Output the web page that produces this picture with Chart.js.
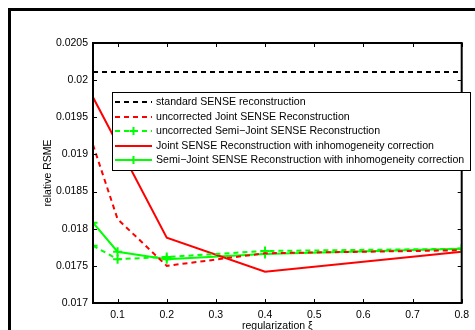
<!DOCTYPE html>
<html>
<head>
<meta charset="utf-8">
<script src="https://cdn.jsdelivr.net/npm/chart.js@4.4.1/dist/chart.umd.min.js"></script>
<style>
  html, body { margin: 0; padding: 0; background: #fff; }
  #wrap { width: 475px; height: 330px; position: relative; }
</style>
</head>
<body>
<div id="wrap"><canvas id="rsmeChart" width="475" height="330"></canvas></div>
<script>
// regularization values and RSME curves
const xValues = [0.05, 0.1, 0.2, 0.4, 0.8];
const standardSense = [0.02011, 0.02011, 0.02011, 0.02011, 0.02011];
const uncorrJoint = [0.01913, 0.01813, 0.0175, 0.01767, 0.01771];
const uncorrSemiJoint = [0.01777, 0.01759, 0.01762, 0.0177, 0.01773];
const jointCorr = [0.01977, 0.01914, 0.01788, 0.01742, 0.01769];
const semiJointCorr = [0.01808, 0.01769, 0.01759, 0.01766, 0.01773];

const xTicks = [0.1, 0.2, 0.3, 0.4, 0.5, 0.6, 0.7, 0.8];
const yTicks = [0.017, 0.0175, 0.018, 0.0185, 0.019, 0.0195, 0.02, 0.0205];

const seriesLabels = [
  'standard SENSE reconstruction',
  'uncorrected Joint SENSE Reconstruction',
  'uncorrected Semi\u2212Joint SENSE Reconstruction',
  'Joint SENSE Reconstruction with inhomogeneity correction',
  'Semi\u2212Joint SENSE Reconstruction with inhomogeneity correction'
];

const FONT = 'Liberation Sans, Arial, Helvetica, sans-serif';

function pts(vals) {
  return vals.map((v, i) => ({ x: xValues[i], y: v }));
}

function line(label, vals, color, dashed, marker) {
  return {
    label: label,
    data: pts(vals),
    borderColor: color,
    backgroundColor: color,
    borderWidth: 2,
    borderDash: dashed ? [5, 4] : [],
    pointStyle: 'cross',
    pointRadius: marker ? 4.5 : 0,
    pointBorderWidth: 2,
    pointBorderColor: color,
    tension: 0,
    fill: false
  };
}

// frame, inward ticks and boxed legend, MATLAB style
const matlabAxes = {
  id: 'matlabAxes',
  beforeDraw(chart) {
    const ctx = chart.ctx;
    ctx.save();
    ctx.fillStyle = '#fff';
    ctx.fillRect(0, 0, chart.width, chart.height);
    // outer figure frame (top-left corner)
    ctx.fillStyle = '#000';
    ctx.fillRect(8, 8, chart.width - 8, 3);
    ctx.fillRect(8, 8, 3, chart.height - 8);
    ctx.restore();
  },
  afterDatasetsDraw(chart) {
    const ctx = chart.ctx;
    const a = chart.chartArea;
    const xs = chart.scales.x, ys = chart.scales.y;
    ctx.save();
    ctx.strokeStyle = '#000';
    ctx.lineWidth = 1;
    ctx.beginPath();
    xTicks.forEach(v => {
      const px = Math.round(xs.getPixelForValue(v)) + 0.5;
      ctx.moveTo(px, a.bottom); ctx.lineTo(px, a.bottom - 4);
      ctx.moveTo(px, a.top); ctx.lineTo(px, a.top + 4);
    });
    yTicks.forEach(v => {
      const py = Math.round(ys.getPixelForValue(v)) + 0.5;
      ctx.moveTo(a.left, py); ctx.lineTo(a.left + 4, py);
      ctx.moveTo(a.right, py); ctx.lineTo(a.right - 4, py);
    });
    ctx.stroke();
    ctx.lineWidth = 2;
    ctx.strokeRect(a.left, a.top, a.right - a.left, a.bottom - a.top);

    // legend box
    const lx = 112, ly = 92, lw = 358, lh = 78;
    ctx.fillStyle = '#fff';
    ctx.fillRect(lx, ly, lw, lh);
    ctx.lineWidth = 1;
    ctx.strokeRect(lx + 0.5, ly + 0.5, lw, lh);
    ctx.font = '10.6px ' + FONT;
    ctx.textBaseline = 'middle';
    chart.data.datasets.forEach((ds, i) => {
      const y = Math.round(ly + 10 + i * 14.6);
      ctx.strokeStyle = ds.borderColor;
      ctx.lineWidth = 2;
      ctx.setLineDash(ds.borderDash);
      ctx.beginPath();
      ctx.moveTo(115, y); ctx.lineTo(152, y);
      ctx.stroke();
      ctx.setLineDash([]);
      if (ds.pointRadius > 0) {
        ctx.beginPath();
        ctx.moveTo(133.5 - 4, y); ctx.lineTo(133.5 + 4, y);
        ctx.moveTo(133.5, y - 4); ctx.lineTo(133.5, y + 4);
        ctx.stroke();
      }
      ctx.fillStyle = '#000';
      ctx.textAlign = 'left';
      ctx.fillText(ds.label, 156, y);
    });
    ctx.restore();
  }
};

const chartCanvas = document.getElementById('rsmeChart');

new Chart(chartCanvas, {
  type: 'line',
  data: {
    datasets: [
      line(seriesLabels[0], standardSense, '#000000', true, false),
      line(seriesLabels[1], uncorrJoint, '#ff0000', true, false),
      line(seriesLabels[2], uncorrSemiJoint, '#00ff00', true, true),
      line(seriesLabels[3], jointCorr, '#ff0000', false, false),
      line(seriesLabels[4], semiJointCorr, '#00ff00', false, true)
    ]
  },
  options: {
    responsive: false,
    animation: false,
    layout: { padding: { left: 42, top: 43, right: 3, bottom: 0 } },
    plugins: {
      legend: { display: false },
      tooltip: { enabled: false }
    },
    scales: {
      x: {
        type: 'linear',
        min: 0.05,
        max: 0.8,
        afterBuildTicks: s => { s.ticks = xTicks.map(v => ({ value: v })); },
        afterFit: s => { s.height = 27; },
        grid: { display: false, drawTicks: false },
        border: { display: false },
        ticks: {
          color: '#000',
          padding: 6,
          maxRotation: 0,
          font: { family: FONT, size: 10.5 },
          callback: v => String(parseFloat(v.toFixed(2)))
        },
        title: {
          display: true,
          text: 'regularization \u03be',
          color: '#000',
          padding: { top: 0, bottom: -2 },
          font: { family: FONT, size: 10.5 }
        }
      },
      y: {
        type: 'linear',
        min: 0.017,
        max: 0.0205,
        afterBuildTicks: s => { s.ticks = yTicks.map(v => ({ value: v })); },
        afterFit: s => { s.width = 93 - 42; },
        grid: { display: false, drawTicks: false },
        border: { display: false },
        ticks: {
          color: '#000',
          padding: 5,
          font: { family: FONT, size: 10.5 },
          callback: v => String(parseFloat(v.toFixed(4)))
        },
        title: {
          display: true,
          text: 'relative RSME',
          color: '#000',
          padding: { top: 0, bottom: 0 },
          font: { family: FONT, size: 10.5 }
        }
      }
    }
  },
  plugins: [matlabAxes]
});
</script>
</body>
</html>
